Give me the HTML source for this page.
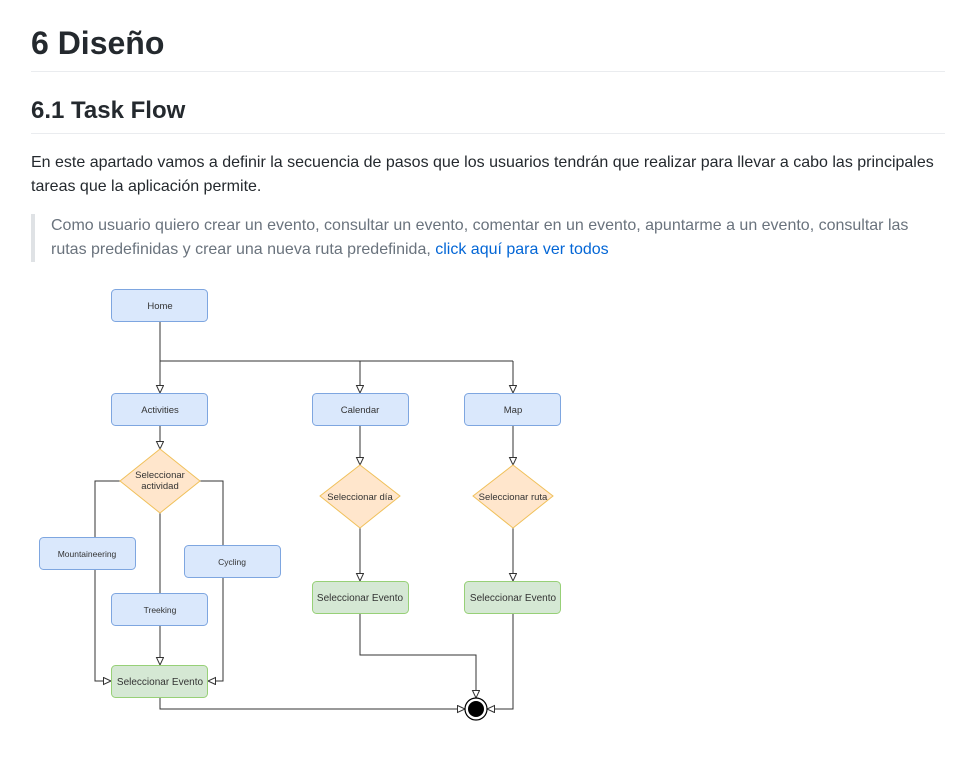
<!DOCTYPE html>
<html><head><meta charset="utf-8"><style>
body{margin:0;background:#fff;width:977px;height:764px;overflow:hidden;position:relative;font-family:"Liberation Sans",sans-serif;color:#24292e}
.a{position:absolute;white-space:nowrap}
.hr{position:absolute;left:31px;width:914px;height:1px;background:#eaecef}
</style></head><body>
<div class="a" style="left:31px;top:23px;font-size:32px;font-weight:bold;line-height:40px">6 Diseño</div>
<div class="hr" style="top:71px"></div>
<div class="a" style="left:31px;top:96px;font-size:24px;font-weight:bold;line-height:30px">6.1 Task Flow</div>
<div class="hr" style="top:133px"></div>
<div class="a" style="left:31px;top:151px;font-size:16px;line-height:24px">En este apartado vamos a definir la secuencia de pasos que los usuarios tendrán que realizar para llevar a cabo las principales<br>tareas que la aplicación permite.</div>
<div style="position:absolute;left:31px;top:214px;width:4px;height:48px;background:#dfe2e5"></div>
<div class="a" style="left:51px;top:214px;font-size:16px;line-height:24px;color:#6a737d">Como usuario quiero crear un evento, consultar un evento, comentar en un evento, apuntarme a un evento, consultar las<br>rutas predefinidas y crear una nueva ruta predefinida, <span style="color:#0366d6">click aquí para ver todos</span></div>
<svg style="position:absolute;left:0;top:0" width="977" height="764" font-family="Liberation Sans, sans-serif" font-size="9.5" fill="#333">
<defs><marker id="m" markerWidth="10" markerHeight="10" refX="8" refY="4" orient="auto" markerUnits="userSpaceOnUse"><path d="M0.5,0.5 L8,4 L0.5,7.5 Z" fill="#fff" stroke="#333" stroke-width="1"/></marker></defs>
<g fill="none" stroke="#333" stroke-width="1">
<path d="M160,321V393" marker-end="url(#m)"/>
<path d="M160,361H513" />
<path d="M360,361V393" marker-end="url(#m)"/>
<path d="M513,361V393" marker-end="url(#m)"/>
<path d="M160,425V449" marker-end="url(#m)"/>
<path d="M360,425V465" marker-end="url(#m)"/>
<path d="M513,425V465" marker-end="url(#m)"/>
<path d="M360,528V581" marker-end="url(#m)"/>
<path d="M513,528V581" marker-end="url(#m)"/>
<path d="M120,481H95V681H111" marker-end="url(#m)"/>
<path d="M200,481H223V681H208" marker-end="url(#m)"/>
<path d="M160,513V665" marker-end="url(#m)"/>
<path d="M160,697V709H465" marker-end="url(#m)"/>
<path d="M360,613V655H476V698" marker-end="url(#m)"/>
<path d="M513,613V709H487" marker-end="url(#m)"/>
</g>
<g stroke="#7ea6e0" fill="#dae8fc" stroke-width="1">
<rect x="111.5" y="289.5" width="96" height="32" rx="4"/>
<rect x="111.5" y="393.5" width="96" height="32" rx="4"/>
<rect x="312.5" y="393.5" width="96" height="32" rx="4"/>
<rect x="464.5" y="393.5" width="96" height="32" rx="4"/>
<rect x="39.5" y="537.5" width="96" height="32" rx="4"/>
<rect x="184.5" y="545.5" width="96" height="32" rx="4"/>
<rect x="111.5" y="593.5" width="96" height="32" rx="4"/>
</g>
<g stroke="#97d077" fill="#d5e8d4">
<rect x="111.5" y="665.5" width="96" height="32" rx="4"/>
<rect x="312.5" y="581.5" width="96" height="32" rx="4"/>
<rect x="464.5" y="581.5" width="96" height="32" rx="4"/>
</g>
<g stroke="#f0c05a" fill="#ffe6cc">
<path d="M160,449L200,481L160,513L120,481Z"/>
<path d="M360,465L400,496L360,528L320,496Z"/>
<path d="M513,465L553,496L513,528L473,496Z"/>
</g>
<circle cx="476" cy="709" r="11" fill="#fff" stroke="#000" stroke-width="1.2"/>
<circle cx="476" cy="709" r="8" fill="#000"/>
<g text-anchor="middle">
<text x="160" y="309">Home</text>
<text x="160" y="413">Activities</text>
<text x="360" y="413">Calendar</text>
<text x="513" y="413">Map</text>
<text x="160" y="478">Seleccionar</text>
<text x="160" y="489">actividad</text>
<text x="360" y="500">Seleccionar día</text>
<text x="513" y="500">Seleccionar ruta</text>
<text x="87" y="557" font-size="8.5">Mountaineering</text>
<text x="232" y="565" font-size="8.5">Cycling</text>
<text x="160" y="613" font-size="8.5">Treeking</text>
<text x="160" y="685" font-size="10">Seleccionar Evento</text>
<text x="360" y="601" font-size="10">Seleccionar Evento</text>
<text x="513" y="601" font-size="10">Seleccionar Evento</text>
</g>
</svg>
</body></html>
